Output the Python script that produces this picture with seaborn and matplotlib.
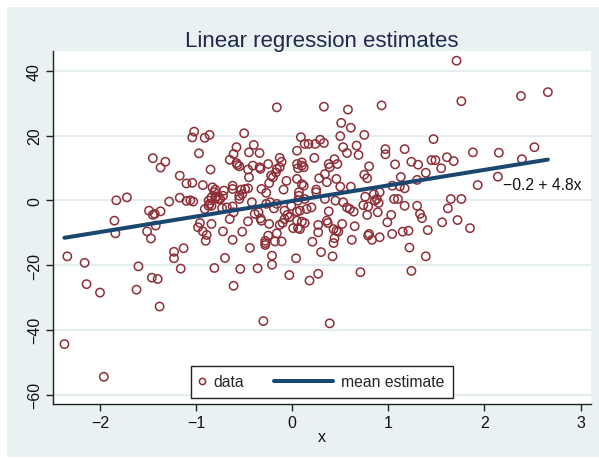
import matplotlib
matplotlib.use("Agg")
import matplotlib.pyplot as plt
import seaborn as sns
import pandas as pd
from matplotlib.lines import Line2D
from matplotlib.patches import Rectangle
from matplotlib.legend_handler import HandlerLine2D

# ---- data ----
x_vals = [
    -1.02, -1.04, -0.91, -0.86, -0.97, -1.45, -1.32, -1.37, -1.17, -1.10, -1.04, -0.93,
    -1.72, -1.83, -1.28, -1.17, -1.10, -1.06, -1.03,
    -1.49, -1.45, -1.43, -1.37, -1.85, -1.42, -1.84, -1.51, -1.47,
    -0.96, -0.98, -0.93, -0.89, -0.90,
    -2.34, -2.16, -2.14, -2.00, -1.60, -1.62, -1.46, -1.40, -1.38, -1.23, -1.23, -1.13, -1.16,
    -2.37, -1.96,
    -0.86, -0.87, -0.84, -0.91,
    -0.75, -0.73, -0.68, -0.62, -0.61, -0.65, -0.55, -0.42,
    -0.84, -0.72, -0.62, -0.52, -0.46, -0.39, -0.35, -0.33, -0.32,
    -0.27, -0.23, -0.19, -0.16, -0.08, -0.05, -0.08, -0.03, -0.01, 0.05, 0.05, 0.01, 0.06,
    -0.24, -0.13, -0.10, -0.16, -0.25, -0.28, -0.28, -0.28, -0.18, -0.11, -0.44, -0.70,
    -0.81, -0.54, -0.36, -0.21, -0.21, 0.04, -0.03, -0.61, -0.30,
    0.06, 0.13, 0.08, 0.15, 0.20, 0.10, 0.13, 0.08, 0.27, 0.27, 0.38, 0.36, 0.37, 0.34,
    0.45, 0.53, 0.57, 0.60, 0.64, 0.52, 0.43, 0.46, 0.48, 0.44, 0.43, 0.21, 0.30, 0.42,
    0.65, 0.62,
    0.74, 0.79, 0.78, 0.89, 0.86, 0.90, 1.03, 0.99, 1.04, 0.91, 0.83, 0.80, 0.79,
    0.71, 0.27, 0.18, 0.39,
    1.06, 1.10, 1.17, 1.30, 1.33, 1.35, 1.15, 1.21, 1.41, 1.56, 1.62, 1.65, 1.76, 1.72,
    1.85, 1.22, 1.39, 1.24,
    1.71, 1.76, 2.38, 2.66, 1.47, 1.17, 1.07, 1.24, 1.31, 1.45, 1.49, 1.61, 1.68, 1.55,
    1.88, 2.15, 2.52, 2.39, 1.39, 1.13, 1.30, 1.04, 1.12, 1.17, 2.14, 1.93,
    0.33, 0.58, 0.93, 0.51, 0.61, 0.50, 0.75, 0.09, 0.13, 0.17, 0.24, 0.29, 0.33, 0.05,
    0.53, 0.57, 0.67, 0.69, 0.97, 0.97, 0.23, 0.05, 0.10, 0.10, 0.06, 0.12, 0.38, 0.44,
    0.47, 0.39, 0.80, 0.34, 0.28, 0.36, 0.46, 0.75, 0.78, 0.10, 0.12, 0.25, 0.25, 0.50,
    0.61, 0.07, 0.76, 0.85, 0.88, 0.91,
    -0.16, -0.50, -0.58, -0.40, -0.61, -0.45, -0.34, -0.65, -0.58, -0.57, -0.55, -0.13,
    -0.11, -0.41, -0.34, -0.33, -0.25, -0.16, -0.13, -0.17, -0.22, -0.20, -0.06, -0.09,
    -0.24, 0.05, -0.85, -0.45, -0.46, -0.83, -0.80, -0.81, -0.71, -0.72, -0.62, -0.62,
    -0.53, -0.49, -0.46, -0.55, -0.52, -0.32, -0.27, 0.07, -0.84, -0.80, -0.79, -0.77, -0.87,
]
y_vals = [
    21.2, 19.4, 19.3, 20.2, 14.5, 13.0, 11.9, 10.1, 7.6, 5.2, 5.4, 4.7,
    0.9, 0.0, -0.4, 0.8, -0.2, 0.0, -0.4,
    -3.2, -4.5, -4.2, -3.4, -6.3, -7.8, -10.2, -9.6, -11.8,
    -7.0, -8.3, -9.6, -10.7, -12.5,
    -17.3, -19.3, -25.9, -28.5, -20.4, -27.6, -23.9, -24.3, -32.8, -15.9, -17.9, -14.8, -21.1,
    -44.4, -54.5,
    -1.1, -1.7, -1.7, -2.7,
    0.4, -2.4, -2.2, -1.9, -3.7, -5.8, 0.4, -0.6,
    -7.3, -9.6, -12.2, -9.7, -6.5, -4.2, -3.7, -5.6, -6.3,
    -1.1, -0.6, -2.5, -1.1, -3.2, -4.5, -5.8, -5.2, -1.7, -3.5, -6.3, -8.6, -8.6,
    -7.3, -7.6, -7.0, -10.2, -10.9, -12.5, -13.2, -13.8, -12.7, -12.7, -14.7, -17.8,
    -20.9, -21.2, -21.0, -17.1, -19.9, -17.9, -23.1, -26.4, -37.3,
    -0.1, 0.4, -3.2, -2.7, -2.2, -6.6, -7.0, -8.9, -7.6, -9.9, -3.4, -6.3, -7.0, 0.4,
    -0.1, -0.6, -2.2, -2.7, -3.5, -7.3, -8.9, -9.4, -9.7, -11.7, -13.2, -12.8, -16.0, -17.3,
    -8.0, -12.2,
    -1.5, -1.9, -4.5, -3.7, -0.1, -0.8, -4.5, -6.8, -10.4, -11.4, -12.2, -10.4, -10.9,
    -22.2, -22.7, -24.8, -38.0,
    0.4, 0.4, -1.7, -1.7, -4.2, -5.5, -9.7, -9.4, -9.2, -6.8, -2.5, 0.4, 0.4, -6.1,
    -8.6, -14.6, -17.3, -21.8,
    43.1, 30.6, 32.2, 33.4, 18.9, 15.8, 11.1, 11.9, 11.0, 12.4, 12.4, 13.3, 12.1, 9.9,
    14.8, 14.7, 16.4, 12.7, 8.5, 7.2, 6.3, 4.5, 4.3, 3.7, 7.3, 4.7,
    28.9, 28.0, 29.3, 23.9, 22.4, 19.8, 20.2, 19.5, 17.4, 17.4, 17.4, 18.7, 17.7, 15.3,
    16.4, 14.6, 16.9, 14.0, 15.8, 14.2, 13.1, 11.2, 11.7, 10.7, 9.9, 10.2, 11.2, 12.7,
    11.2, 10.2, 10.5, 8.1, 6.8, 5.6, 6.6, 7.9, 6.8, 5.0, 4.5, 3.3, 2.5, 4.2,
    4.2, 1.4, 1.1, 1.9, 0.4, 2.5,
    28.7, 20.7, 16.4, 17.1, 14.3, 14.8, 14.6, 12.5, 11.5, 10.9, 10.5, 13.1,
    11.9, 10.7, 10.2, 9.7, 11.2, 9.7, 10.2, 8.6, 7.6, 7.1, 6.0, 3.3,
    5.3, 6.6, 9.5, 7.1, 9.5, 4.0, 3.3, 2.5, 3.0, 1.4, 4.5, 3.5,
    3.3, 3.5, 3.7, 1.4, 1.9, 3.5, 2.3, 2.5, 0.9, 0.6, 1.2, 0.4, -0.1,
]
intercept = -0.2
slope = 4.8
series_labels = ["data", "mean estimate"]
title_text = "Linear regression estimates"
x_label = "x"
x_ticks = [-2, -1, 0, 1, 2, 3]
y_ticks = [-60, -40, -20, 0, 20, 40]

# ---- style ----
RED = "#8E2F38"
NAVY = "#1A476F"
BG = "#EAF1F3"
GRID = "#E4EDF0"
FS = 11.3


class LongLineHandler(HandlerLine2D):
    """Legend line that extends to the left of its (narrow) handle box."""
    def __init__(self, length_em, **kw):
        super().__init__(**kw)
        self.length_em = length_em

    def create_artists(self, legend, orig_handle, xdescent, ydescent, width,
                       height, fontsize, trans):
        x1 = -xdescent + width
        x0 = x1 - self.length_em * fontsize
        y = (height - ydescent) / 2.0
        ln = Line2D([x0, x1], [y, y])
        self.update_prop(ln, orig_handle, legend)
        ln.set_marker("")
        ln.set_transform(trans)
        return [ln]


sns.set_theme(style="white")
plt.rcParams["font.family"] = ["Liberation Sans", "DejaVu Sans"]
plt.rcParams["axes.unicode_minus"] = True

W, H = 599, 460
fig = plt.figure(figsize=(W / 100, H / 100), dpi=100, facecolor="white")
fig.patches.append(Rectangle((7 / W, 2 / H), 1 - 7 / W, 1 - 10 / H, transform=fig.transFigure,
                             facecolor=BG, edgecolor="none", zorder=-10))

L, R, T, B = 53, 591, 52, 405
ax = fig.add_axes([L / W, 1 - B / H, (R - L) / W, (B - T) / H])
ax.set_facecolor("white")

df = pd.DataFrame({"x": x_vals, "y": y_vals})
sns.scatterplot(data=df, x="x", y="y", ax=ax, s=36, marker="o",
                facecolor="none", edgecolor=RED, linewidth=1.1, legend=False, zorder=3)

xs = [min(x_vals), max(x_vals)]
line_df = pd.DataFrame({"x": xs, "y": [intercept + slope * v for v in xs]})
sns.lineplot(data=line_df, x="x", y="y", ax=ax, color=NAVY, linewidth=2.9, zorder=4)

ax.set_xlim(-2.489, 3.109)
ax.set_ylim(-62.9, 46.1)
ax.set_xticks(x_ticks)
ax.set_yticks(y_ticks)
ax.set_xlabel("")
ax.set_ylabel("")
ax.yaxis.grid(True, color=GRID, linewidth=1.5)
ax.xaxis.grid(False)
ax.set_axisbelow(True)
for s in ["top", "right"]:
    ax.spines[s].set_visible(False)
for s in ["left", "bottom"]:
    ax.spines[s].set_color("#222222")
    ax.spines[s].set_linewidth(1.0)
ax.tick_params(axis="both", direction="out", length=5, width=1, color="#222222",
               labelsize=11.5, labelcolor="#111111", left=True, bottom=True, pad=3)
for lbl in ax.get_yticklabels():
    lbl.set_rotation(90)
    lbl.set_va("center")

eq = f"{intercept:.1f} + {slope:.1f}x".replace("-", "\u2212")
ax.text(2.19, 5.0, eq, fontsize=FS, ha="left", va="center", color="#111111", zorder=5)

marker_handle = Line2D([], [], marker="o", linestyle="none", markerfacecolor="none",
                       markeredgecolor=RED, markersize=4.5, markeredgewidth=1.1)
line_handle = Line2D([], [], color=NAVY, linewidth=2.9)
leg = ax.legend([marker_handle, line_handle], series_labels,
                handler_map={line_handle: LongLineHandler(3.76)},
                loc="lower center", bbox_to_anchor=(0.5, 0.018), borderaxespad=0,
                ncol=2, frameon=True, fancybox=False, framealpha=1, edgecolor="#222222",
                fontsize=FS, handlelength=0.35, columnspacing=5.3, borderpad=0.52,
                handletextpad=0.55)
leg.get_frame().set_linewidth(1.0)
leg.set_zorder(10)

fig.text(322 / W, 1 - 47 / H, title_text, ha="center", va="baseline",
         fontsize=16, color="#1E2A4A")
fig.text(322 / W, 1 - 438 / H, x_label, ha="center", va="center",
         fontsize=11.5, color="#111111")

fig.savefig("out.png", dpi=100, facecolor=fig.get_facecolor())
